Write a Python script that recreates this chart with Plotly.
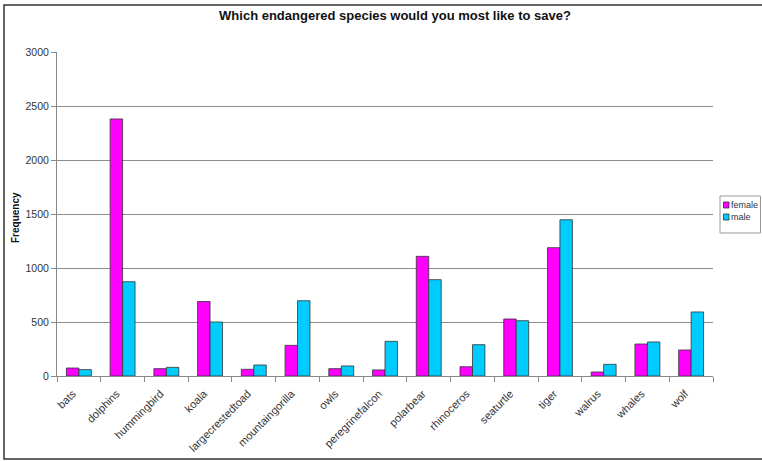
import plotly.graph_objects as go

species = ["bats", "dolphins", "hummingbird", "koala", "largecrestedtoad",
           "mountaingorilla", "owls", "peregrinefalcon", "polarbear", "rhinoceros",
           "seaturtle", "tiger", "walrus", "whales", "wolf"]
female = [74, 2380, 68, 690, 62, 284, 68, 56, 1108, 86, 528, 1188, 37, 296, 241]
male = [59, 873, 80, 500, 102, 697, 93, 321, 892, 290, 512, 1447, 108, 315, 593]
y_ticks = [0, 500, 1000, 1500, 2000, 2500, 3000]
series_names = ["female", "male"]
series_colors = ["#FF00FF", "#00CCFF"]

W, H = 762, 461
L, R, T, B = 57, 49, 52, 85
pw = W - L - R
ph = H - T - B


def px_x(x):
    return (x - L) / pw


def px_y(y):
    return (H - B - y) / ph


fig = go.Figure()
for name, vals, col in zip(series_names, [female, male], series_colors):
    fig.add_trace(go.Bar(name=name, x=species, y=vals,
                         marker=dict(color=col, line=dict(color="#333333", width=0.8))))

fig.update_layout(
    width=W, height=H,
    margin=dict(l=L, r=R, t=T, b=B, autoexpand=False),
    paper_bgcolor="white", plot_bgcolor="white",
    font=dict(family="Liberation Sans, Arial, sans-serif", size=10, color="#333333"),
    barmode="group", bargap=0.43, bargroupgap=0,
    showlegend=False,
    title=dict(text="<b>Which endangered species would you most like to save?</b>",
               x=px_x(395), xref="paper", xanchor="center",
               y=1 - 15 / H, yref="container", yanchor="middle",
               font=dict(size=13, color="#111111")),
    xaxis=dict(type="category", tickson="boundaries", ticks="outside", ticklen=5,
               tickcolor="#888888", showline=True, linecolor="#888888", linewidth=1,
               tickangle=-45, showgrid=False, tickfont=dict(size=11, color="#333333"),
               ticklabelstandoff=6, ticklabelshift=-6,
               range=[-0.5, len(species) - 0.5], automargin=False),
    yaxis=dict(range=[0, 3000], tickvals=y_ticks, ticks="outside", ticklen=5,
               tickcolor="#888888", showline=True, linecolor="#888888", linewidth=1,
               showgrid=True, gridcolor="#8c8c8c", gridwidth=1, zeroline=False,
               tickfont=dict(size=10.5, color="#333333"), automargin=False),
)

# y-axis title
fig.add_annotation(text="<b>Frequency</b>", xref="paper", yref="paper",
                   x=px_x(15), y=px_y(218), textangle=-90, showarrow=False,
                   xanchor="center", yanchor="middle",
                   font=dict(size=10, color="#111111"))

# outer chart frame
fig.add_shape(type="rect", xref="paper", yref="paper",
              x0=px_x(4), x1=px_x(W + 20), y0=px_y(459), y1=px_y(5),
              line=dict(color="#333333", width=1.5), fillcolor="rgba(0,0,0,0)",
              layer="below")

# legend box (drawn manually, like the reference's legend at the right edge)
fig.add_shape(type="rect", xref="paper", yref="paper",
              x0=px_x(720), x1=px_x(760.5), y0=px_y(233), y1=px_y(196),
              line=dict(color="#999999", width=1), fillcolor="white")
for i, (name, col) in enumerate(zip(series_names, series_colors)):
    yc = 205 + i * 12
    fig.add_shape(type="rect", xref="paper", yref="paper",
                  x0=px_x(723.5), x1=px_x(729), y0=px_y(yc + 3), y1=px_y(yc - 3),
                  line=dict(color="#333333", width=0.8), fillcolor=col)
    fig.add_annotation(text=name, xref="paper", yref="paper",
                       x=px_x(730), y=px_y(yc), xanchor="left", yanchor="middle",
                       showarrow=False, borderpad=0,
                       font=dict(size=9, color="#333333"))

fig.write_html("out.html", config={"displayModeBar": False},
               post_script="document.body.style.margin='0';")
